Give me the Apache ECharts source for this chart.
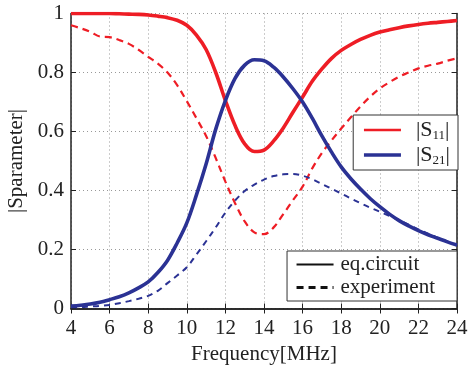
<!DOCTYPE html>
<html>
<head>
<meta charset="utf-8">
<script src="https://cdn.jsdelivr.net/npm/echarts@6/dist/echarts.min.js"></script>
<style>
  html, body { margin: 0; padding: 0; background: #fff; }
  #chart { width: 470px; height: 365px; }
</style>
</head>
<body>
<div id="chart"></div>
<script>
// frequency points (MHz), 0.5 step
const freq = [4, 4.5, 5, 5.5, 6, 6.5, 7, 7.5, 8, 8.5, 9, 9.5, 10, 10.5, 11, 11.5, 12, 12.5, 13, 13.5, 14, 14.5, 15, 15.5, 16, 16.5, 17, 17.5, 18, 18.5, 19, 19.5, 20, 20.5, 21, 21.5, 22, 22.5, 23, 23.5, 24]

// |S11|, |S21| - equivalent circuit (solid)
const s11Circuit = [1.0, 1.0, 1.0, 1.0, 1.0, 0.999, 0.998, 0.997, 0.995, 0.991, 0.986, 0.977, 0.96, 0.927, 0.878, 0.8, 0.705, 0.62, 0.558, 0.532, 0.537, 0.568, 0.612, 0.665, 0.717, 0.77, 0.812, 0.848, 0.875, 0.895, 0.912, 0.926, 0.937, 0.945, 0.952, 0.958, 0.963, 0.967, 0.97, 0.973, 0.976]
const s21Circuit = [0.008, 0.011, 0.015, 0.021, 0.03, 0.04, 0.053, 0.07, 0.09, 0.122, 0.163, 0.222, 0.29, 0.385, 0.49, 0.608, 0.705, 0.78, 0.825, 0.843, 0.84, 0.818, 0.785, 0.745, 0.7, 0.645, 0.585, 0.53, 0.48, 0.44, 0.405, 0.373, 0.345, 0.32, 0.298, 0.28, 0.264, 0.25, 0.238, 0.226, 0.215]

// |S11|, |S21| - experiment (dashed)
const s11Exp = [0.96, 0.95, 0.938, 0.922, 0.92, 0.91, 0.897, 0.877, 0.853, 0.83, 0.8, 0.757, 0.703, 0.645, 0.585, 0.51, 0.43, 0.357, 0.295, 0.258, 0.252, 0.275, 0.32, 0.367, 0.413, 0.475, 0.527, 0.57, 0.61, 0.648, 0.685, 0.718, 0.746, 0.767, 0.786, 0.8, 0.814, 0.823, 0.83, 0.84, 0.848]
const s21Exp = [0.004, 0.005, 0.007, 0.009, 0.012, 0.018, 0.025, 0.033, 0.043, 0.06, 0.086, 0.112, 0.14, 0.183, 0.228, 0.275, 0.325, 0.366, 0.398, 0.42, 0.437, 0.449, 0.455, 0.456, 0.45, 0.438, 0.422, 0.406, 0.39, 0.373, 0.357, 0.342, 0.328, 0.314, 0.3, 0.284, 0.268, 0.254, 0.24, 0.227, 0.213]

const RED = '#ee1d25'
const BLUE = '#2b3294'
const FONT = "'Liberation Serif', 'Times New Roman', serif"

const pairs = arr => freq.map((f, i) => [f, arr[i]])

const chart = echarts.init(document.getElementById('chart'))

// top / right frame axes, ticks only
const frameAxis = {
  axisLine: { show: true, lineStyle: { color: '#222', width: 1.5 } },
  axisTick: { show: true, inside: true, length: 5, lineStyle: { color: '#222' } },
  axisLabel: { show: false },
  splitLine: { show: false }
}

const gridDots = { show: true, lineStyle: { color: '#999', type: [1, 3], width: 1 } }

chart.setOption({
  animation: false,
  grid: { left: 71, right: 13, top: 13.5, bottom: 56.5, outerBoundsMode: 'none', containLabel: false },
  xAxis: [
    {
      type: 'value', min: 4, max: 24, interval: 2,
      name: 'Frequency[MHz]', nameLocation: 'middle', nameGap: 35,
      nameTextStyle: { fontFamily: FONT, fontSize: 21, color: '#222' },
      axisLine: { lineStyle: { color: '#222', width: 1.5 } },
      axisTick: { inside: true, length: 5, lineStyle: { color: '#222' } },
      axisLabel: { fontFamily: FONT, fontSize: 21, color: '#222', margin: 9 },
      splitLine: gridDots
    },
    Object.assign({ type: 'value', min: 4, max: 24, interval: 2, position: 'top' }, frameAxis)
  ],
  yAxis: [
    {
      type: 'value', min: 0, max: 1, interval: 0.2,
      name: '|Sparameter|', nameLocation: 'middle', nameGap: 42,
      nameTextStyle: { fontFamily: FONT, fontSize: 21, color: '#222' },
      axisLine: { show: true, lineStyle: { color: '#222', width: 1.5 } },
      axisTick: { show: true, inside: true, length: 5, lineStyle: { color: '#222' } },
      axisLabel: {
        fontFamily: FONT, fontSize: 21, color: '#222', margin: 7,
        formatter: v => String(+v.toFixed(1))
      },
      splitLine: gridDots
    },
    Object.assign({ type: 'value', min: 0, max: 1, interval: 0.2, position: 'right' }, frameAxis)
  ],
  legend: [
    {
      data: [
        { name: 'S11', lineStyle: { width: 2.5, type: 'solid' }, itemStyle: { opacity: 0 } },
        { name: 'S21', lineStyle: { width: 3.5, type: 'solid' }, itemStyle: { opacity: 0 } }
      ],
      orient: 'vertical',
      right: 12, top: 115,
      itemWidth: 37, itemHeight: 14, itemGap: 2,
      backgroundColor: '#fff',
      borderColor: '#333', borderWidth: 1,
      padding: [4, 8, 3, 9],
      formatter: n => '{t||S}{sub|' + n.slice(1) + '}{t||}',
      textStyle: {
        padding: [0, 0, 0, 10],
        rich: {
          t: { fontFamily: FONT, fontSize: 22, lineHeight: 24, color: '#222' },
          sub: { fontFamily: FONT, fontSize: 13, color: '#222', verticalAlign: 'bottom', padding: [8, 0, 0, 0] }
        }
      }
    },
    {
      data: [
        { name: 'eq.circuit', lineStyle: { width: 2.2 }, itemStyle: { opacity: 0 } },
        { name: 'experiment', lineStyle: { width: 3, type: [7, 5] }, itemStyle: { opacity: 0 } }
      ],
      orient: 'vertical',
      right: 13, top: 251,
      itemWidth: 37, itemHeight: 14, itemGap: 2,
      backgroundColor: '#fff',
      borderColor: '#333', borderWidth: 1,
      padding: [3, 22, 3, 8],
      formatter: n => '{t|' + n + '}',
      textStyle: {
        padding: [0, 0, 0, 2],
        rich: { t: { fontFamily: FONT, fontSize: 21, lineHeight: 22, color: '#222' } }
      }
    }
  ],
  series: [
    {
      name: 'S11', type: 'line', data: pairs(s11Exp), smooth: 0.35, symbol: 'none',
      lineStyle: { color: RED, width: 2.2, type: [7, 5] }, itemStyle: { color: RED }
    },
    {
      name: 'S21', type: 'line', data: pairs(s21Exp), smooth: 0.35, symbol: 'none',
      lineStyle: { color: BLUE, width: 2, type: [6, 5] }, itemStyle: { color: BLUE }
    },
    {
      name: 'S11', type: 'line', data: pairs(s11Circuit), smooth: 0.35, symbol: 'none',
      lineStyle: { color: RED, width: 3.6 }, itemStyle: { color: RED }
    },
    {
      name: 'S21', type: 'line', data: pairs(s21Circuit), smooth: 0.35, symbol: 'none',
      lineStyle: { color: BLUE, width: 3.6 }, itemStyle: { color: BLUE }
    },
    // legend-only entries for the line styles
    {
      name: 'eq.circuit', type: 'line', data: [], symbol: 'none',
      lineStyle: { color: '#111', width: 2.2 }, itemStyle: { color: '#111' }
    },
    {
      name: 'experiment', type: 'line', data: [], symbol: 'none',
      lineStyle: { color: '#111', width: 3, type: [7, 5] }, itemStyle: { color: '#111' }
    }
  ]
})
</script>
</body>
</html>
